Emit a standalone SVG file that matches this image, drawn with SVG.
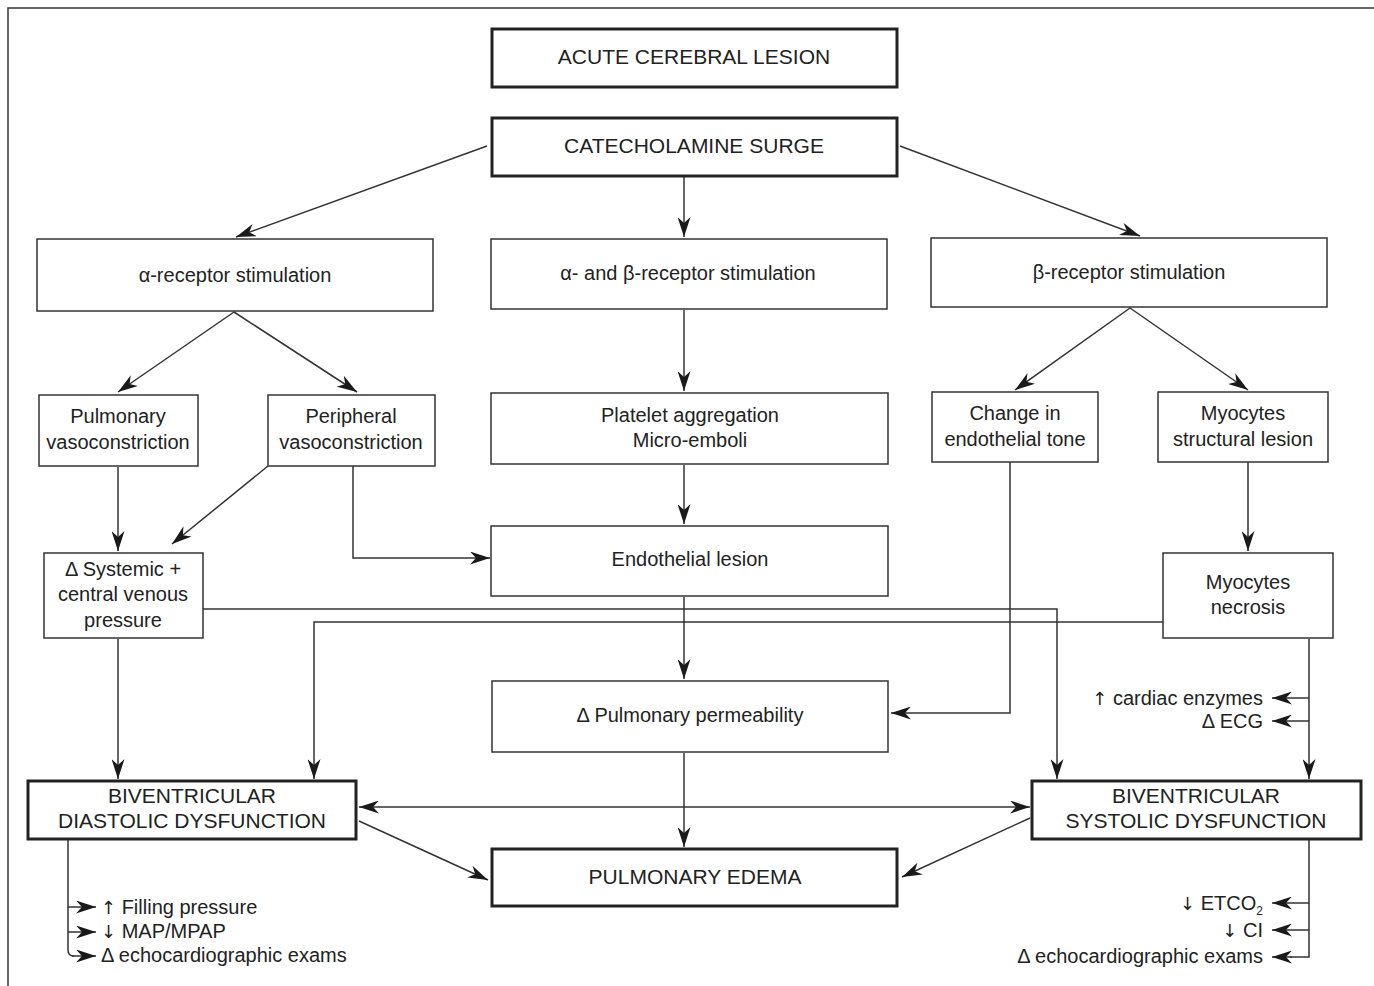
<svg xmlns="http://www.w3.org/2000/svg" width="1374" height="986" viewBox="0 0 1374 986">
<defs>
<marker id="ah" viewBox="0 0 20 13" refX="20" refY="6.5" markerWidth="20" markerHeight="13" markerUnits="userSpaceOnUse" orient="auto-start-reverse">
<path d="M0,0 L20,6.5 L0,13 L6,6.5 Z" fill="#1a1a1a"/>
</marker>
<style>
.b{fill:#fff;stroke:#333;stroke-width:1.5}
.t{fill:#fff;stroke:#222;stroke-width:3}
text{font-family:"Liberation Sans",Arial,sans-serif;font-size:20px;fill:#222;text-anchor:middle}
.cap{font-size:21px}
.l{font-size:20px;text-anchor:start}
.r{font-size:20px;text-anchor:end}
.g{font-family:"DejaVu Sans",sans-serif;font-size:18px;fill:#222}
.c{fill:none;stroke:#333;stroke-width:1.5}
.a{fill:none;stroke:#333;stroke-width:1.5;marker-end:url(#ah)}
</style>
</defs>
<rect width="1374" height="986" fill="#fff"/>
<path d="M8,986 V8 H1374" fill="none" stroke="#333" stroke-width="1.5"/>

<g id="connectors">
<line class="a" x1="487" y1="146" x2="236" y2="237"/>
<line class="a" x1="684" y1="177" x2="684" y2="237"/>
<line class="a" x1="900" y1="146" x2="1140" y2="236"/>
<line class="a" x1="234" y1="312" x2="118" y2="392"/>
<line class="a" x1="234" y1="312" x2="357" y2="392"/>
<line class="a" x1="684" y1="310" x2="684" y2="391"/>
<line class="a" x1="1130" y1="308" x2="1015" y2="390"/>
<line class="a" x1="1130" y1="308" x2="1248" y2="390"/>
<line class="a" x1="118" y1="467" x2="118" y2="551"/>
<line class="a" x1="268" y1="466" x2="172" y2="544"/>
<path class="a" d="M353,466 V558 H490"/>
<line class="a" x1="684" y1="465" x2="684" y2="524"/>
<line class="a" x1="684" y1="597" x2="684" y2="679"/>
<path class="a" d="M1010,462 V713 H891"/>
<line class="a" x1="1248" y1="462" x2="1248" y2="551"/>
<path class="a" d="M203,609 H1057 V779"/>
<path class="a" d="M1163,622 H314 V779"/>
<line class="a" x1="118" y1="639" x2="118" y2="779"/>
<line class="a" x1="1309" y1="639" x2="1309" y2="779"/>
<line class="a" x1="1309" y1="698" x2="1272" y2="698"/>
<line class="a" x1="1309" y1="721" x2="1272" y2="721"/>
<line class="a" x1="684" y1="753" x2="684" y2="847"/>
<line class="a" x1="359" y1="807" x2="1030" y2="807" style="marker-start:url(#ah)"/>
<line class="a" x1="359" y1="821" x2="488" y2="880"/>
<line class="a" x1="1030" y1="818" x2="902" y2="877"/>
<path class="c" d="M68,840 V950 Q68,956 74,956"/>
<line class="a" x1="68" y1="907" x2="96" y2="907"/>
<line class="a" x1="68" y1="932" x2="96" y2="932"/>
<line class="a" x1="72" y1="956" x2="96" y2="956"/>
<path class="c" d="M1309,840 V957 H1290"/>
<line class="a" x1="1309" y1="903" x2="1272" y2="903"/>
<line class="a" x1="1309" y1="930" x2="1272" y2="930"/>
<line class="a" x1="1292" y1="957" x2="1272" y2="957"/>
</g>

<g id="n-acute"><rect class="t" x="492" y="29" width="405" height="58"/><text class="cap" x="694" y="64">ACUTE CEREBRAL LESION</text></g>
<g id="n-cat"><rect class="t" x="492" y="118" width="405" height="58"/><text class="cap" x="694" y="153">CATECHOLAMINE SURGE</text></g>
<g id="n-alpha"><rect class="b" x="37" y="239" width="396" height="72"/><text x="235" y="282">α-receptor stimulation</text></g>
<g id="n-ab"><rect class="b" x="491" y="239" width="396" height="70"/><text x="688" y="280">α- and β-receptor stimulation</text></g>
<g id="n-beta"><rect class="b" x="931" y="238" width="396" height="69"/><text x="1129" y="279">β-receptor stimulation</text></g>
<g id="n-pulmvaso"><rect class="b" x="39" y="395" width="159" height="71"/><text x="118" y="423">Pulmonary</text><text x="118" y="449">vasoconstriction</text></g>
<g id="n-perivaso"><rect class="b" x="268" y="395" width="167" height="71"/><text x="351" y="423">Peripheral</text><text x="351" y="449">vasoconstriction</text></g>
<g id="n-platelet"><rect class="b" x="491" y="393" width="397" height="71"/><text x="690" y="422">Platelet aggregation</text><text x="690" y="447">Micro-emboli</text></g>
<g id="n-tone"><rect class="b" x="932" y="392" width="166" height="70"/><text x="1015" y="420">Change in</text><text x="1015" y="446">endothelial tone</text></g>
<g id="n-struct"><rect class="b" x="1158" y="392" width="170" height="70"/><text x="1243" y="420">Myocytes</text><text x="1243" y="446">structural lesion</text></g>
<g id="n-systemic"><rect class="b" x="44" y="553" width="159" height="85"/><text x="123" y="576">Δ Systemic +</text><text x="123" y="601">central venous</text><text x="123" y="627">pressure</text></g>
<g id="n-endo"><rect class="b" x="491" y="526" width="397" height="70"/><text x="690" y="566">Endothelial lesion</text></g>
<g id="n-necrosis"><rect class="b" x="1163" y="553" width="170" height="85"/><text x="1248" y="589">Myocytes</text><text x="1248" y="614">necrosis</text></g>
<g id="n-perm"><rect class="b" x="492" y="681" width="396" height="71"/><text x="690" y="722">Δ Pulmonary permeability</text></g>
<g id="n-diast"><rect class="t" x="28" y="781" width="328" height="58"/><text class="cap" x="192" y="803">BIVENTRICULAR</text><text class="cap" x="192" y="828">DIASTOLIC DYSFUNCTION</text></g>
<g id="n-syst"><rect class="t" x="1032" y="781" width="329" height="58"/><text class="cap" x="1196" y="803">BIVENTRICULAR</text><text class="cap" x="1196" y="828">SYSTOLIC DYSFUNCTION</text></g>
<g id="n-edema"><rect class="t" x="492" y="849" width="405" height="57"/><text class="cap" x="695" y="884">PULMONARY EDEMA</text></g>

<g id="labels">
<text class="r" x="1263" y="705"><tspan class="g">↑</tspan> cardiac enzymes</text>
<text class="r" x="1263" y="728">Δ ECG</text>
<text class="l" x="101" y="914"><tspan class="g">↑</tspan> Filling pressure</text>
<text class="l" x="101" y="938"><tspan class="g">↓</tspan> MAP/MPAP</text>
<text class="l" x="101" y="962">Δ echocardiographic exams</text>
<text class="r" x="1263" y="910"><tspan class="g">↓</tspan> ETCO<tspan font-size="12" dy="5">2</tspan></text>
<text class="r" x="1263" y="937"><tspan class="g">↓</tspan> CI</text>
<text class="r" x="1263" y="963">Δ echocardiographic exams</text>
</g>
</svg>
